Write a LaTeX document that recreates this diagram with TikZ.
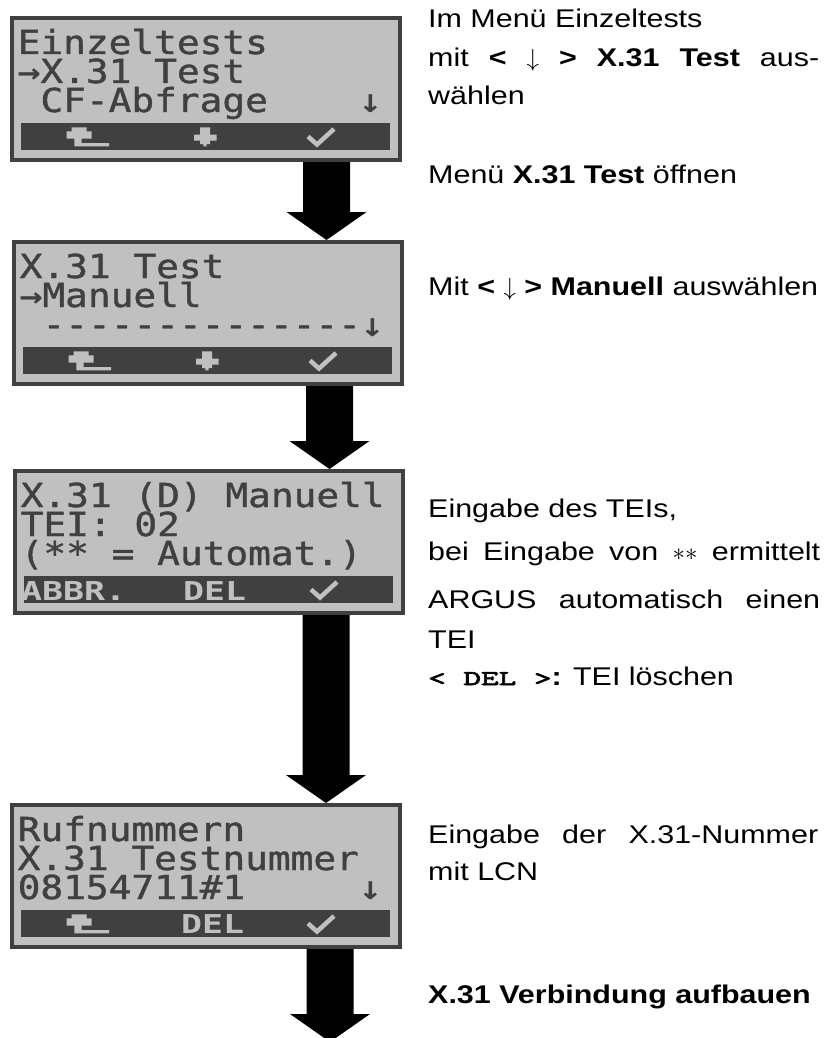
\documentclass[tikz,border=0pt]{standalone}
\usepackage{fontspec}
\usepackage{graphicx}
\newfontfamily\bodyfont[FakeStretch=1.19]{Liberation Sans}
\newfontfamily\lcdfont[FakeStretch=1.145,FakeBold=1.2]{DejaVu Sans Mono}
\newfontfamily\lcdkeyfont[FakeStretch=1.34]{DejaVu Sans Mono}
\newfontfamily\codefont[Extension=.otf,FakeStretch=1.6,FakeBold=3]{lmmono10-regular}
\usetikzlibrary{calc}

\definecolor{lcdbg}{HTML}{C0C0C0}
\definecolor{lcdink}{HTML}{404040}

\newcommand\bodysize{\bodyfont\fontsize{25.6}{30}\selectfont}
% key names in the running text, heavy typewriter
\newcommand\keyname[1]{{\codefont\fontsize{21}{26}\selectfont #1}}

\tikzset{
  lcd/.style={draw=lcdink, fill=lcdbg, line width=4pt, outer sep=2pt,
    inner sep=0pt, minimum width=388pt, minimum height=142pt, anchor=north west},
  lcdtext/.style={anchor=base west, inner sep=0pt, text=lcdink,
    text height=24pt, text depth=3pt,
    font=\lcdfont\fontsize{33}{33}\selectfont\frenchspacing},
  keytext/.style={anchor=base west, inner sep=0pt, text=lcdbg,
    text height=19pt, text depth=0pt,
    font=\lcdkeyfont\bfseries\fontsize{26}{26}\selectfont\frenchspacing},
  body/.style={anchor=base west, inner sep=0pt, font=\bodysize,
    text height=18pt, text depth=5pt},
}

% one text cell row of the display: name, column, row, text
\newcommand\lcdrow[4]{\node[lcdtext] (#1) at ({7.5+#2*22.75},{38+29*#3}) {#4};}
% dark key bar along the bottom of a display
\newcommand\lcdbar{\fill[lcdink] (11,107) rectangle (380,134);}
% key symbols inside the bar
\newcommand\keyreturn{%
  \fill[lcdbg] (61.7,111.3) rectangle (76.7,115.3)
    (56.7,115.3) rectangle (81.7,122.7)
    (64.3,122.7) rectangle (71.7,130.3)
    (64.3,127) rectangle (99,130.3);}
\newcommand\keydown{%
  \fill[lcdbg] (190,111.3) rectangle (200,118.7)
    (184,118.7) rectangle (206.7,124.7)
    (190,124.7) rectangle (200,128)
    (193.3,128) rectangle (196.7,130.3);}
\newcommand\keyok{%
  \draw[lcdbg, line width=4.5pt, line join=miter] (298,120.5) -- (307,128.5) -- (324,113);}

% thick block arrow from one display to the next
\newcommand\bigarrow[3]{%
  \fill let \p1=(#1 -| #3), \p2=(#2 -| #3) in
    (\x1-23.5pt,\y1) -- (\x1+23.5pt,\y1) -- (\x1+23.5pt,\y2+28pt)
    -- (\x1+40pt,\y2+28pt) -- (\x1,\y2) -- (\x1-40pt,\y2+28pt)
    -- (\x1-23.5pt,\y2+28pt) -- cycle;}

\begin{document}
\begin{tikzpicture}[x=1pt, y=-1pt]
\fill[white] (0,0) rectangle (825,1038);
\useasboundingbox (0,0) rectangle (825,1038);

% display 1: Einzeltests
\begin{scope}[shift={(10,16)}]
  \node[lcd] (lcd1) at (0,0) {};
  \lcdrow{d1a}{0}{0}{Einzeltests}
  \lcdrow{d1b}{0}{1}{→X.31 Test}
  \lcdrow{d1c}{1}{2}{CF-Abfrage}
  \lcdrow{d1d}{15}{2}{↓}
  \lcdbar \keyreturn \keydown \keyok
\end{scope}

% display 2: X.31 Test
\begin{scope}[shift={(12,240)}]
  \node[lcd] (lcd2) at (0,0) {};
  \lcdrow{d2a}{0}{0}{X.31 Test}
  \lcdrow{d2b}{0}{1}{→Manuell}
  \lcdrow{d2c}{1}{2}{-\kern0pt-\kern0pt-\kern0pt-\kern0pt-\kern0pt-\kern0pt-\kern0pt-\kern0pt-\kern0pt-\kern0pt-\kern0pt-\kern0pt-\kern0pt-}
  \lcdrow{d2d}{15}{2}{↓}
  \lcdbar \keyreturn \keydown \keyok
\end{scope}

% display 3: TEI entry
\begin{scope}[shift={(13,469)}]
  \node[lcd] (lcd3) at (0,0) {};
  \lcdrow{d3a}{0}{0}{X.31 (D) Manuell}
  \lcdrow{d3b}{0}{1}{TEI: 02}
  \lcdrow{d3c}{0}{2}{(** = Automat.)}
  \lcdbar
  \node[keytext] (k3a) at (8,131.5) {ABBR.};
  \node[keytext] (k3b) at (170,131.5) {DEL};
  \keyok
\end{scope}

% display 4: number entry
\begin{scope}[shift={(10,803)}]
  \node[lcd] (lcd4) at (0,0) {};
  \lcdrow{d4a}{0}{0}{Rufnummern}
  \lcdrow{d4b}{0}{1}{X.31 Testnummer}
  \lcdrow{d4c}{0}{2}{08154711\#1}
  \lcdrow{d4d}{15}{2}{↓}
  \lcdbar \keyreturn
  \node[keytext] (k4b) at (171,130.5) {DEL};
  \keyok
\end{scope}

% arrow axes and the free end of the last arrow
\coordinate (ax1) at (326.5,0);
\coordinate (ax2) at (329.5,0);
\coordinate (ax3) at (326,0);
\coordinate (ax4) at (330,0);
\coordinate (end4) at (330,1042);

\bigarrow{lcd1.south}{lcd2.north}{ax1}
\bigarrow{lcd2.south}{lcd3.north}{ax2}
\bigarrow{lcd3.south}{lcd4.north}{ax3}
\bigarrow{lcd4.south}{end4}{ax4}

% explanations
\node[body] (t1a) at (428,28) {Im Menü Einzeltests};
\node[body] (t1b) at (428,67) {\makebox[391pt][s]{mit \textbf{<} $\downarrow$ \textbf{>} \textbf{X.31} \textbf{Test} aus-}};
\node[body] (t1c) at (428,105) {wählen};
\node[body] (t2) at (428,183) {Menü \textbf{X.31 Test} öffnen};
\node[body] (t3) at (428,295) {Mit \textbf{<} $\downarrow$ \textbf{>} \textbf{Manuell} auswählen};
\node[body] (t4a) at (428,517) {Eingabe des TEIs,};
\node[body] (t4b) at (428,560) {\makebox[392pt][s]{bei Eingabe von ${*}{*}$ ermittelt}};
\node[body] (t4c) at (428,608) {\makebox[392pt][s]{ARGUS automatisch einen}};
\node[body] (t4d) at (428,648) {TEI};
\node[body] (t4e) at (428,685) {\keyname{< DEL >}\textbf{:} TEI löschen};
\node[body] (t5a) at (428,843) {\makebox[390pt][s]{Eingabe der X.31-Nummer}};
\node[body] (t5b) at (428,880) {mit LCN};
\node[body] (t6) at (428,1003) {\textbf{X.31 Verbindung aufbauen}};
\end{tikzpicture}
\end{document}
